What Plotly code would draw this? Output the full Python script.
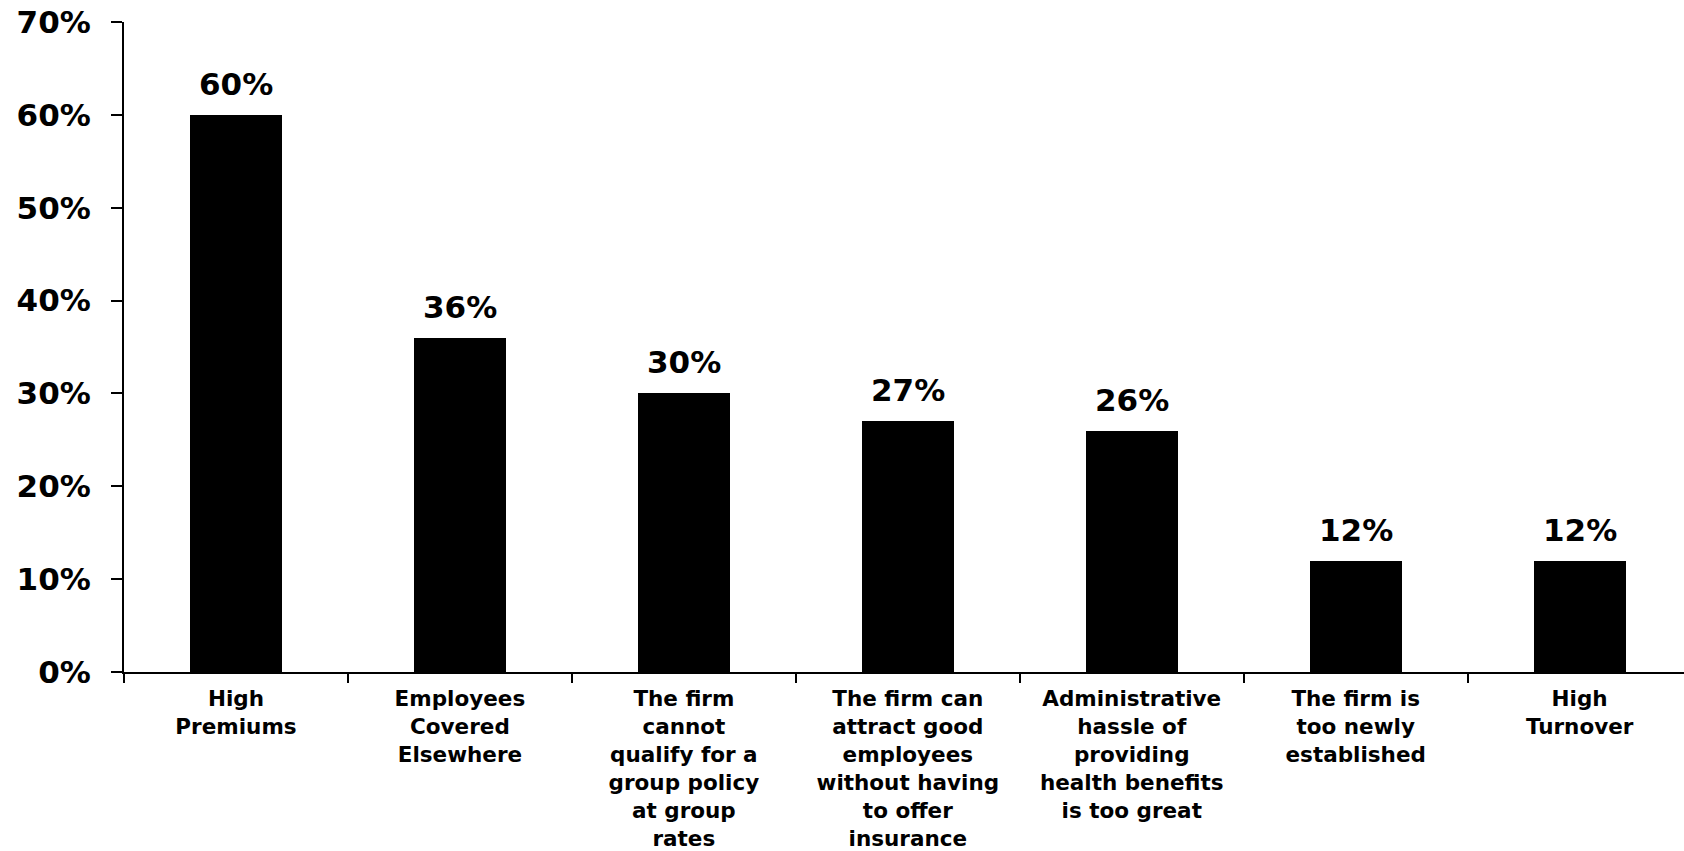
import plotly.graph_objects as go

# Reasons small firms give for not offering health benefits
categories = [
    "High<br>Premiums",
    "Employees<br>Covered<br>Elsewhere",
    "The firm<br>cannot<br>qualify for a<br>group policy<br>at group<br>rates",
    "The firm can<br>attract good<br>employees<br>without having<br>to offer<br>insurance",
    "Administrative<br>hassle of<br>providing<br>health benefits<br>is too great",
    "The firm is<br>too newly<br>established",
    "High<br>Turnover",
]
shares = [0.60, 0.36, 0.30, 0.27, 0.26, 0.12, 0.12]
y_ticks = [0, 0.1, 0.2, 0.3, 0.4, 0.5, 0.6, 0.7]
y_tick_labels = ["0%", "10%", "20%", "30%", "40%", "50%", "60%", "70%"]

FONT = "DejaVu Sans, Verdana, sans-serif"

fig = go.Figure(
    go.Bar(
        x=categories,
        y=shares,
        width=0.41,
        marker=dict(color="black", line=dict(width=0)),
        hoverinfo="skip",
    )
)

# value labels above each bar
for cat, v in zip(categories, shares):
    fig.add_annotation(
        x=cat, y=v, text=f"{round(v * 100)}%",
        showarrow=False, yanchor="bottom", yshift=11,
        font=dict(family=FONT, size=31, color="black", weight="bold"),
    )

fig.update_layout(
    width=1684, height=851,
    margin=dict(l=124, r=0, t=22, b=177),
    paper_bgcolor="white", plot_bgcolor="white",
    showlegend=False,
    bargap=0,
)

fig.update_xaxes(
    type="category",
    range=[-0.5, 6.466],
    tickangle=0,
    ticks="outside", ticklen=9, tickwidth=2, tickcolor="black",
    tickson="boundaries",
    ticklabelstandoff=6,
    showline=True, linecolor="black", linewidth=2,
    showgrid=False, zeroline=False,
    tickfont=dict(family=FONT, size=21.5, color="black", weight="bold"),
)

fig.update_yaxes(
    range=[0, 0.7],
    tickmode="array", tickvals=y_ticks, ticktext=y_tick_labels,
    ticks="outside", ticklen=11, tickwidth=2, tickcolor="black",
    ticklabelstandoff=14,
    showline=True, linecolor="black", linewidth=2,
    showgrid=False, zeroline=False,
    tickfont=dict(family=FONT, size=31, color="black", weight="bold"),
)

fig.write_html("out.html")
